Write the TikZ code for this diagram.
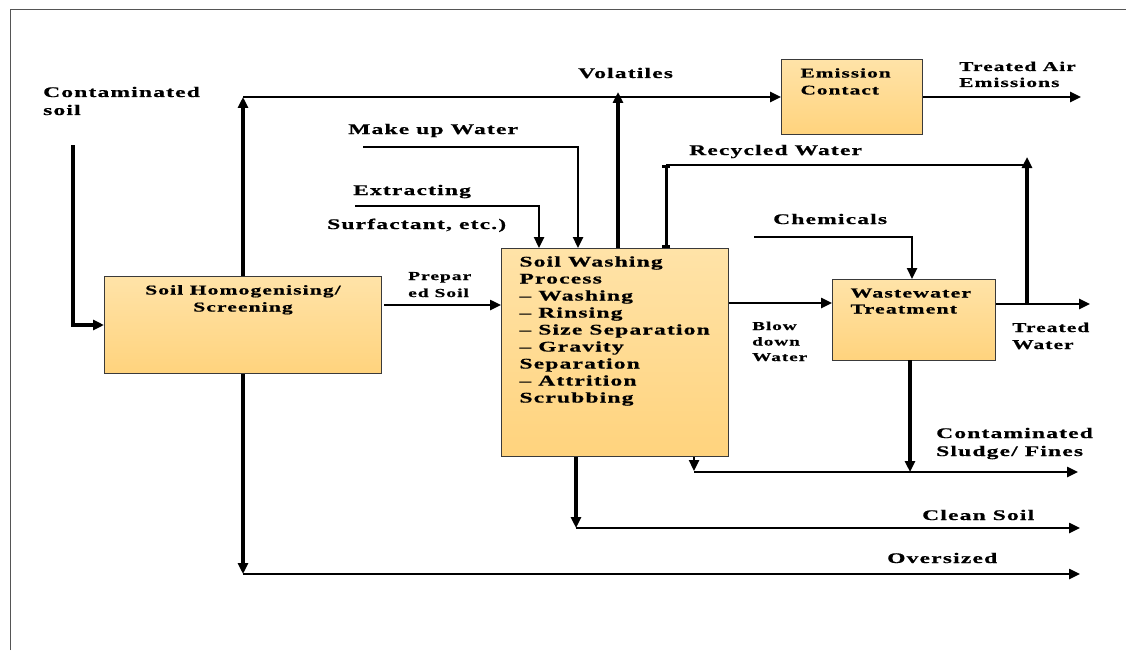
\documentclass[tikz,border=0pt]{standalone}
\usepackage{fontspec}
\setmainfont{Liberation Serif}[FakeStretch=1.6, LetterSpace=8, FakeBold=0.6]
\usetikzlibrary{arrows.meta}
\definecolor{boxtop}{HTML}{FFE3A8}
\definecolor{boxbot}{HTML}{FFD37D}
\definecolor{boxline}{HTML}{3A3A3A}
\definecolor{frame}{HTML}{555555}
\newcommand{\mltext}[1]{\begin{tabular}[t]{@{}l@{}}#1\end{tabular}}
\begin{document}
\begin{tikzpicture}[x=1pt,y=-1pt,
  box/.style={draw=boxline, line width=1pt, top color=boxtop, bottom color=boxbot, inner sep=0pt, anchor=north west},
  lbl/.style={inner sep=0pt, anchor=base west, font=\bfseries\fontsize{14.7}{18}\selectfont},
  flow/.style={line width=2.4pt, -{Triangle[length=11pt,width=10pt]}},
  vflow/.style={flow, line width=3.4pt},
  tee/.style={line width=3pt, {Bar[width=8pt]}-{Bar[width=8pt]}}
]
\useasboundingbox (0,0) rectangle (1126,650);
\draw[frame, line width=1pt] (10,650) -- (10,10) -- (1126,10);

% boxes
\node[box] (hom) at (104,276) {\parbox[t][97pt][t]{277pt}{\centering\bfseries\fontsize{13.5}{17}\selectfont\rule{0pt}{18pt}Soil Homogenising/\\Screening}};
\node[box] (wash) at (501,248) {\parbox[t][208pt][t]{227pt}{\raggedright\leftskip=18pt\bfseries\fontsize{14.7}{17}\selectfont\rule{0pt}{18pt}Soil Washing\\Process\\-- Washing\\-- Rinsing\\-- Size Separation\\-- Gravity\\Separation\\-- Attrition\\Scrubbing}};
\node[box] (emi) at (781,59) {\parbox[t][75pt][t]{141pt}{\raggedright\leftskip=19pt\bfseries\fontsize{13.3}{17}\selectfont\rule{0pt}{18pt}Emission\\Contact}};
\node[box] (wt) at (832,279) {\parbox[t][81pt][t]{163pt}{\raggedright\leftskip=18pt\bfseries\fontsize{13.7}{16}\selectfont\rule{0pt}{18pt}Wastewater\\Treatment}};

% labels
\node[lbl] (tcs) at (43,97) {\mltext{Contaminated\\soil}};
\node[lbl] (tvol) at (578,78) {Volatiles};
\node[lbl, font=\bfseries\fontsize{13.4}{16}\selectfont] (tair) at (959,71) {\mltext{Treated Air\\Emissions}};
\node[lbl] (tmw) at (348,134) {Make up Water};
\node[lbl] (tex) at (353,195) {Extracting};
\node[lbl] (tsurf) at (327,229) {Surfactant, etc.)};
\node[lbl] (trw) at (689,155) {Recycled Water};
\node[lbl] (tch) at (773,224) {Chemicals};
\node[lbl, font=\bfseries\fontsize{12.2}{17}\selectfont] (tps) at (408,280) {\mltext{Prepar\\ed Soil}};
\node[lbl, font=\bfseries\fontsize{12}{15.5}\selectfont] (tbd) at (752,330) {\mltext{Blow\\down\\Water}};
\node[lbl, font=\bfseries\fontsize{13.4}{17}\selectfont] (ttw) at (1012,332) {\mltext{Treated\\Water}};
\node[lbl] (tsl) at (936,438) {\mltext{Contaminated\\Sludge/ Fines}};
\node[lbl] (tclean) at (922,520) {Clean Soil};
\node[lbl] (tover) at (887,563) {Oversized};

% coordinates
\coordinate (csin) at (73,145);
\coordinate (top) at (hom.north |- emi.west);
\coordinate (vol) at (618,92);
\coordinate (air) at (1081,97);
\coordinate (mw) at (363,147);
\coordinate (mwin) at (578,248);
\coordinate (ex) at (355,206);
\coordinate (exin) at (539,248);
\coordinate (ch) at (754,237);
\coordinate (rwtop) at (1027,157);
\coordinate (rwr) at (1027,165);
\coordinate (rwl) at (666,165);
\coordinate (wtout) at (1027,304);
\coordinate (ps) at (384,305);
\coordinate (bd) at (729,303);
\coordinate (tw) at (1090,304);
\coordinate (sa) at (694,457);
\coordinate (sab) at (694,471);
\coordinate (sl0) at (694,472);
\coordinate (sl) at (1078,472);
\coordinate (wts) at (910,360);
\coordinate (chin) at (912,279);
\coordinate (cs1) at (576,528);
\coordinate (cs2) at (1080,528);
\coordinate (os2) at (1080,574);

% connectors
\draw[vflow] (csin) |- (hom.west);
\draw[vflow] (hom.north) -- (top);
\draw[flow] (top) -- (emi.west);
\draw[vflow] (wash.north -| vol) -- (vol);
\draw[flow] (emi.east) -- (emi.east -| air);
\draw[flow] (mw) -| (mwin);
\draw[flow] (ex) -| (exin);
\draw[flow] (ch) -| (chin);
\draw[flow] (ps) -- (ps -| wash.west);
\draw[flow] (bd) -- (bd -| wt.west);
\draw[flow] (wt.east |- tw) -- (tw);
\draw[vflow] (wtout) -- (rwtop);
\draw[line width=2.4pt] (rwl) -- (rwr);
\draw[tee] (rwl) -- (rwl |- wash.north);
\draw[vflow] (wts) -- (wts |- sl);
\draw[flow] (sa) -- (sab);
\draw[flow] (sl0) -- (sl);
\draw[vflow] (wash.south -| cs1) -- (cs1);
\draw[flow] (cs1) -- (cs2);
\draw[vflow] (hom.south) -- (hom.south |- os2);
\draw[flow] (hom.south |- os2) -- (os2);
\end{tikzpicture}
\end{document}
